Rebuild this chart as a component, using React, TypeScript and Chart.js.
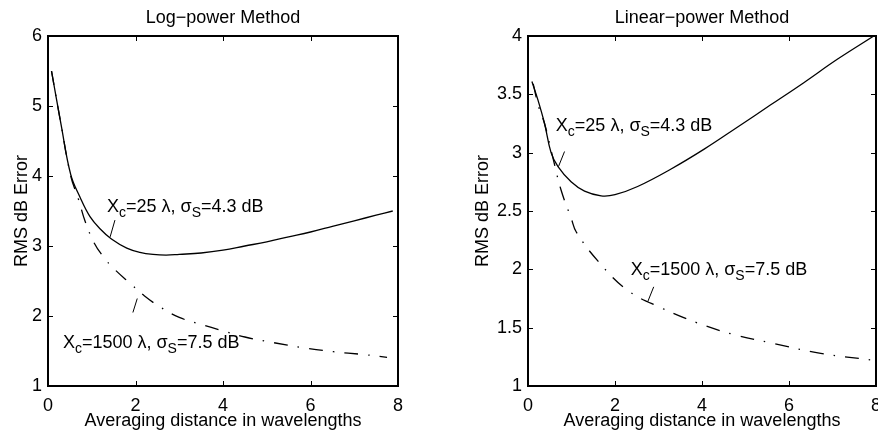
import React, { useEffect, useRef } from "react";
import { Chart, registerables } from "chart.js";

Chart.register(...registerables);

const FONT = '"Liberation Sans", Arial, Helvetica, sans-serif';

// ---- tick values ----
const xTicks = [0, 2, 4, 6, 8];
const logYTicks = [1, 2, 3, 4, 5, 6];
const linYTicks = [1, 1.5, 2, 2.5, 3, 3.5, 4];

// ---- texts ----
const logTitle = "Log\u2212power Method";
const linTitle = "Linear\u2212power Method";
const xTitle = "Averaging distance in wavelengths";
const yTitle = "RMS dB Error";
const labelShort: [string, boolean][] = [["X", false], ["c", true], ["=25 \u03bb, \u03c3", false], ["S", true], ["=4.3 dB", false]];
const labelLong: [string, boolean][] = [["X", false], ["c", true], ["=1500 \u03bb, \u03c3", false], ["S", true], ["=7.5 dB", false]];

// ---- Log-power method data ----
const logSolidX = [0.08, 0.3, 0.52, 0.73, 0.96, 1.2, 1.45, 1.8, 2.1, 2.4, 2.7, 3.0, 3.5, 4.0, 4.5, 5.0, 5.5, 6.0, 6.5, 7.0, 7.5, 7.88];
const logSolidY = [5.5, 4.73, 4.02, 3.7, 3.42, 3.24, 3.1, 2.97, 2.91, 2.88, 2.87, 2.88, 2.9, 2.94, 3.0, 3.06, 3.13, 3.2, 3.28, 3.36, 3.44, 3.5];
const logDashX = [0.08, 0.3, 0.52, 0.7, 0.85, 1.05, 1.26, 1.5, 1.87, 2.2, 2.56, 3.0, 3.5, 3.93, 4.5, 5.15, 5.8, 6.52, 7.2, 7.75];
const logDashY = [5.5, 4.73, 4.0, 3.66, 3.35, 3.05, 2.85, 2.68, 2.47, 2.29, 2.13, 1.98, 1.88, 1.8, 1.7, 1.62, 1.55, 1.49, 1.45, 1.41];

// ---- Linear-power method data ----
const linSolidX = [0.09, 0.23, 0.38, 0.53, 0.69, 0.99, 1.3, 1.68, 2.0, 2.52, 3.29, 4.05, 4.82, 5.58, 6.34, 7.11, 7.95];
const linSolidY = [3.61, 3.45, 3.25, 3.0, 2.88, 2.75, 2.67, 2.63, 2.64, 2.71, 2.86, 3.03, 3.22, 3.41, 3.6, 3.8, 4.0];
const linDashX = [0.12, 0.24, 0.38, 0.57, 0.76, 1.0, 1.11, 1.61, 2.29, 3.06, 3.9, 4.74, 5.58, 6.73, 7.95];
const linDashY = [3.59, 3.4, 3.25, 2.96, 2.68, 2.43, 2.32, 2.07, 1.82, 1.67, 1.54, 1.44, 1.37, 1.28, 1.22];

// annotation anchors (data units): text left/baseline, leader line from -> to
const logNotes = [
  { x: 1.35, y: 3.49, parts: labelShort, line: [1.53, 3.37, 1.42, 3.13] },
  { x: 0.34, y: 1.54, parts: labelLong, line: [1.94, 2.05, 2.04, 2.25] },
];
const linNotes = [
  { x: 0.64, y: 3.19, parts: labelShort, line: [0.84, 3.01, 0.7, 2.88] },
  { x: 2.36, y: 1.95, parts: labelLong, line: [2.89, 1.85, 2.75, 1.72] },
];

const zip = (xs: number[], ys: number[]) => xs.map((x, i) => ({ x, y: ys[i] }));

const framePlugin = {
  id: "frame",
  afterDatasetsDraw(chart: any, _args: any, opts: any) {
    const { ctx, chartArea: a, scales } = chart;
    const xs = scales.x;
    const ys = scales.y;
    ctx.save();
    ctx.strokeStyle = "#000";
    ctx.fillStyle = "#000";
    // inner ticks
    ctx.lineWidth = 1;
    ctx.beginPath();
    const tl = 5;
    for (const v of opts.xTicks) {
      if (v === xs.min || v === xs.max) continue;
      const px = Math.round(xs.getPixelForValue(v)) + 0.5;
      ctx.moveTo(px, a.bottom);
      ctx.lineTo(px, a.bottom - tl);
      ctx.moveTo(px, a.top);
      ctx.lineTo(px, a.top + tl);
    }
    for (const v of opts.yTicks) {
      if (v === ys.min || v === ys.max) continue;
      const py = Math.round(ys.getPixelForValue(v)) + 0.5;
      ctx.moveTo(a.left, py);
      ctx.lineTo(a.left + tl, py);
      ctx.moveTo(a.right, py);
      ctx.lineTo(a.right - tl, py);
    }
    ctx.stroke();
    // frame
    ctx.lineWidth = 2;
    ctx.strokeRect(a.left, a.top, a.right - a.left, a.bottom - a.top);
    // title
    ctx.font = `18px ${FONT}`;
    ctx.textAlign = "center";
    ctx.textBaseline = "alphabetic";
    ctx.fillText(opts.title, (a.left + a.right) / 2, 23);
    // annotations
    ctx.textAlign = "left";
    ctx.lineWidth = 1;
    for (const n of opts.notes) {
      let px = xs.getPixelForValue(n.x);
      const py = ys.getPixelForValue(n.y);
      for (const [t, sub] of n.parts) {
        ctx.font = sub ? `14px ${FONT}` : `18px ${FONT}`;
        ctx.fillText(t, px, sub ? py + 5 : py);
        px += ctx.measureText(t).width;
      }
      const [x1, y1, x2, y2] = n.line;
      ctx.beginPath();
      ctx.moveTo(xs.getPixelForValue(x1), ys.getPixelForValue(y1));
      ctx.lineTo(xs.getPixelForValue(x2), ys.getPixelForValue(y2));
      ctx.stroke();
    }
    ctx.restore();
  },
};

type PanelProps = {
  left: number;
  width: number;
  padLeft: number;
  yWidth: number;
  padRight: number;
  title: string;
  yTicks: number[];
  solid: { x: number; y: number }[];
  dash: { x: number; y: number }[];
  notes: any[];
};

function Panel(p: PanelProps) {
  const ref = useRef<HTMLCanvasElement>(null);
  useEffect(() => {
    const canvas = ref.current!;
    const yMin = p.yTicks[0];
    const yMax = p.yTicks[p.yTicks.length - 1];
    const chart = new Chart(canvas, {
      type: "line",
      data: {
        datasets: [
          {
            data: p.solid,
            borderColor: "#000",
            borderWidth: 1.3,
            pointRadius: 0,
            tension: 0.4,
            fill: false,
          },
          {
            data: p.dash,
            borderColor: "#000",
            borderWidth: 1.3,
            borderDash: [14, 10, 1.5, 10],
            pointRadius: 0,
            tension: 0.4,
            fill: false,
          },
        ],
      },
      options: {
        responsive: false,
        animation: false,
        devicePixelRatio: 1,
        layout: { padding: { left: p.padLeft, right: p.padRight, top: 36, bottom: 0 } },
        plugins: {
          legend: { display: false },
          tooltip: { enabled: false },
          title: { display: false },
          frame: { title: p.title, xTicks, yTicks: p.yTicks, notes: p.notes },
        } as any,
        scales: {
          x: {
            type: "linear",
            min: 0,
            max: 8,
            afterBuildTicks: (s: any) => {
              s.ticks = xTicks.map((v) => ({ value: v }));
            },
            afterFit: (s: any) => {
              s.height = 53;
            },
            grid: { display: false, drawTicks: false },
            border: { display: false },
            ticks: {
              color: "#000",
              font: { family: FONT, size: 18 },
              padding: 9,
              maxRotation: 0,
              callback: (v: any) => String(v),
            },
            title: {
              display: true,
              text: xTitle,
              color: "#000",
              font: { family: FONT, size: 18 },
              padding: { top: 0, bottom: 7 },
            },
          },
          y: {
            type: "linear",
            min: yMin,
            max: yMax,
            afterBuildTicks: (s: any) => {
              s.ticks = p.yTicks.map((v) => ({ value: v }));
            },
            afterFit: (s: any) => {
              s.width = p.yWidth;
            },
            grid: { display: false, drawTicks: false },
            border: { display: false },
            ticks: {
              color: "#000",
              font: { family: FONT, size: 18 },
              padding: 6,
              callback: (v: any) => String(v),
            },
            title: {
              display: true,
              text: yTitle,
              color: "#000",
              font: { family: FONT, size: 18 },
              padding: { top: 11, bottom: 0 },
            },
          },
        },
      },
      plugins: [framePlugin],
    } as any);
    return () => chart.destroy();
  }, []);
  return (
    <canvas
      ref={ref}
      width={p.width}
      height={439}
      style={{ position: "absolute", left: p.left, top: 0, width: p.width, height: 439, display: "block" }}
    />
  );
}

export default function App() {
  return (
    <div
      style={{
        position: "fixed",
        left: 0,
        top: 0,
        width: 878,
        height: 439,
        overflow: "hidden",
        background: "#fff",
      }}
    >
      <Panel
        left={0}
        width={440}
        padLeft={0}
        yWidth={48}
        padRight={42}
        title={logTitle}
        yTicks={logYTicks}
        solid={zip(logSolidX, logSolidY)}
        dash={zip(logDashX, logDashY)}
        notes={logNotes}
      />
      <Panel
        left={440}
        width={450}
        padLeft={21}
        yWidth={67}
        padRight={13}
        title={linTitle}
        yTicks={linYTicks}
        solid={zip(linSolidX, linSolidY)}
        dash={zip(linDashX, linDashY)}
        notes={linNotes}
      />
    </div>
  );
}
